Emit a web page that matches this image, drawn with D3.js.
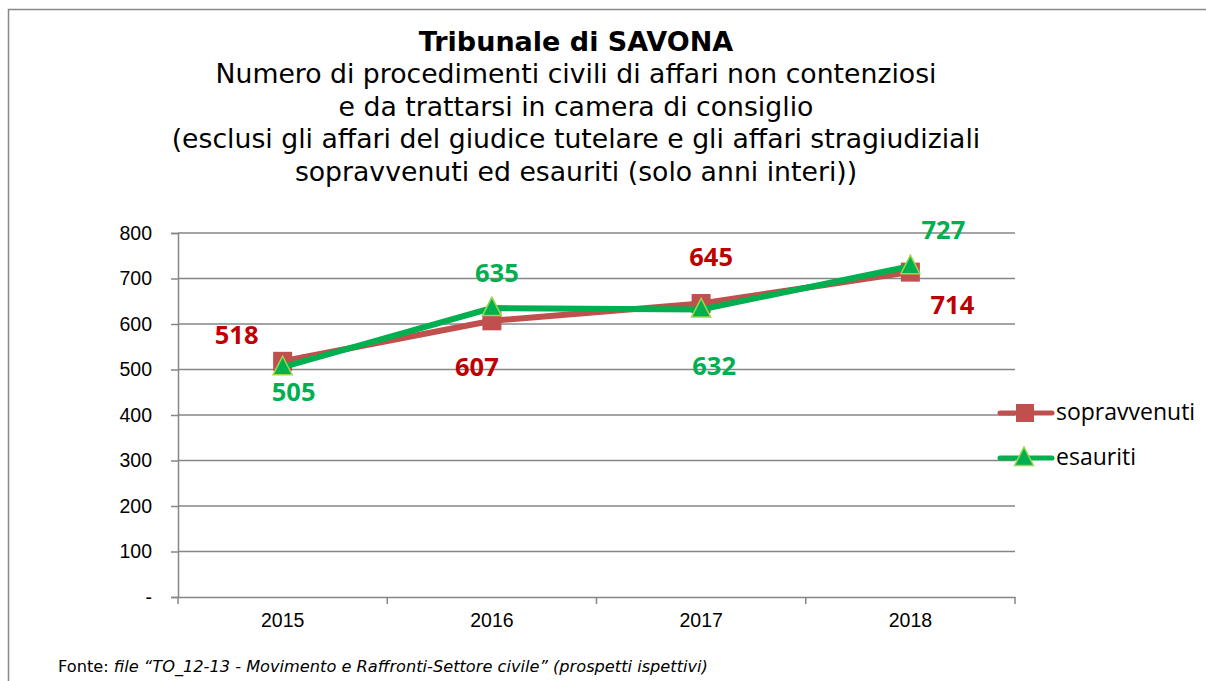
<!DOCTYPE html>
<html>
<head>
<meta charset="utf-8">
<script src="https://cdn.jsdelivr.net/npm/d3@7"></script>
<style>
  body { margin: 0; background: #fff; }
  svg { display: block; }
</style>
</head>
<body>
<script>
var years = ["2015", "2016", "2017", "2018"];
var sopravvenuti = [518, 607, 645, 714];
var esauriti = [505, 635, 632, 727];
var yTicks = [0, 100, 200, 300, 400, 500, 600, 700, 800];
var titleLines = [
  "Numero di procedimenti civili di affari non contenziosi",
  "e da trattarsi in camera di consiglio",
  "(esclusi gli affari del giudice tutelare e gli affari stragiudiziali",
  "sopravvenuti ed esauriti (solo anni interi))"
];

var width = 1206, height = 681;
var plotLeft = 178, plotRight = 1015, plotTop = 233, plotBottom = 597;

var svg = d3.select("body").append("svg")
    .attr("width", width)
    .attr("height", height);

// outer frame (runs off the right and bottom of the picture)
svg.append("rect")
    .attr("x", 8.5).attr("y", 9.5)
    .attr("width", 1300).attr("height", 800)
    .attr("fill", "none")
    .attr("stroke", "#888").attr("stroke-width", 1.5);

svg.append("text")
    .attr("x", 576).attr("y", 51)
    .attr("text-anchor", "middle")
    .style("font-family", "DejaVu Sans")
    .style("font-weight", "bold")
    .style("font-size", "27px")
    .text("Tribunale di SAVONA");

svg.selectAll(".sub").data(titleLines).enter().append("text")
    .attr("class", "sub")
    .attr("x", 576)
    .attr("y", function(d, i) { return 83 + i * 32.5; })
    .attr("text-anchor", "middle")
    .style("font-family", "DejaVu Sans")
    .style("font-size", "26.7px")
    .text(function(d) { return d; });

var x = d3.scaleBand().domain(years).range([plotLeft, plotRight]);
var y = d3.scaleLinear().domain([0, 800]).range([plotBottom, plotTop]);

// gridlines
svg.selectAll(".grid").data(yTicks.filter(function(d) { return d > 0; })).enter().append("line")
    .attr("x1", plotLeft).attr("x2", plotRight)
    .attr("y1", function(d) { return y(d); })
    .attr("y2", function(d) { return y(d); })
    .attr("stroke", "#868686").attr("stroke-width", 1.5);

var yAxis = svg.append("g")
    .attr("transform", "translate(" + plotLeft + ",0)")
    .call(d3.axisLeft(y).tickValues(yTicks).tickSize(7).tickPadding(19)
        .tickFormat(function(d) { return d === 0 ? "-" : d; }));
yAxis.select(".domain").attr("stroke", "#868686").attr("stroke-width", 1.5);
yAxis.selectAll(".tick line").attr("stroke", "#868686").attr("stroke-width", 1.5);
yAxis.selectAll("text")
    .style("font-family", "Liberation Sans")
    .style("font-size", "19.5px")
    .attr("fill", "#000");

var xAxis = svg.append("g")
    .attr("transform", "translate(0," + plotBottom + ")")
    .call(d3.axisBottom(x).tickSize(0).tickPadding(16));
xAxis.select(".domain").attr("stroke", "#868686").attr("stroke-width", 1.5);
xAxis.selectAll("text")
    .style("font-family", "Liberation Sans")
    .style("font-size", "19.5px")
    .attr("fill", "#000");
// category boundary ticks
xAxis.selectAll(".bt").data(years.concat(["end"])).enter().append("line")
    .attr("x1", function(d, i) { return plotLeft + i * x.step(); })
    .attr("x2", function(d, i) { return plotLeft + i * x.step(); })
    .attr("y1", 0).attr("y2", 7)
    .attr("stroke", "#868686").attr("stroke-width", 1.5);

var cx = function(d, i) { return x(years[i]) + x.bandwidth() / 2; };
var line = d3.line().x(function(d, i) { return cx(d, i); }).y(function(d) { return y(d); });

var red = "#C0504D", green = "#00B050";

svg.append("path").datum(sopravvenuti)
    .attr("d", line).attr("fill", "none")
    .attr("stroke", red).attr("stroke-width", 6);
svg.selectAll(".sq").data(sopravvenuti).enter().append("rect")
    .attr("x", function(d, i) { return cx(d, i) - 9.5; })
    .attr("y", function(d) { return y(d) - 9.5; })
    .attr("width", 19).attr("height", 19)
    .attr("fill", red);

svg.append("path").datum(esauriti)
    .attr("d", line).attr("fill", "none")
    .attr("stroke", green).attr("stroke-width", 6);

function tri(px, py) {
  return "M" + px + "," + (py - 11) + "L" + (px + 9.5) + "," + (py + 7.5) + "L" + (px - 9.5) + "," + (py + 7.5) + "Z";
}
svg.selectAll(".tr").data(esauriti).enter().append("path")
    .attr("d", function(d, i) { return tri(cx(d, i), y(d)); })
    .attr("fill", green).attr("stroke", "#9BD84A").attr("stroke-width", 1.5);

// data labels, offsets of the label centre from its point
var redOff = [[-46, -26], [-15, 46], [10, -47], [42, 33]];
var greenOff = [[11, 25], [5, -35], [13, 57], [33, -36]];
function labels(data, off, col) {
  svg.selectAll(null).data(data).enter().append("text")
      .attr("x", function(d, i) { return cx(d, i) + off[i][0]; })
      .attr("y", function(d, i) { return y(d) + off[i][1] + 9; })
      .attr("text-anchor", "middle")
      .style("font-family", "Open Sans")
      .style("font-weight", "bold")
      .style("font-size", "25.5px")
      .attr("fill", col)
      .text(function(d) { return d; });
}
labels(sopravvenuti, redOff, "#C00000");
labels(esauriti, greenOff, "#00B050");

// legend
var legend = [{name: "sopravvenuti", col: red, y: 413}, {name: "esauriti", col: green, y: 458}];
var lg = svg.selectAll(".lg").data(legend).enter().append("g");
lg.append("line")
    .attr("x1", 1000).attr("x2", 1052)
    .attr("y1", function(d) { return d.y; }).attr("y2", function(d) { return d.y; })
    .attr("stroke", function(d) { return d.col; }).attr("stroke-width", 5)
    .attr("stroke-linecap", "round");
lg.filter(function(d, i) { return i === 0; }).append("rect")
    .attr("x", 1016).attr("y", function(d) { return d.y - 9; })
    .attr("width", 18).attr("height", 18).attr("fill", red);
lg.filter(function(d, i) { return i === 1; }).append("path")
    .attr("d", function(d) { return tri(1024, d.y); })
    .attr("fill", green).attr("stroke", "#9BD84A").attr("stroke-width", 1.5);
lg.append("text")
    .attr("x", 1056).attr("y", function(d) { return d.y + 7; })
    .style("font-family", "Open Sans")
    .style("font-size", "23px")
    .text(function(d) { return d.name; });

// source note
var note = svg.append("text")
    .attr("x", 58).attr("y", 672)
    .style("font-family", "DejaVu Sans")
    .style("font-size", "16.2px");
note.append("tspan").text("Fonte: ");
note.append("tspan").style("font-style", "italic")
    .text("file \u201cTO_12-13 - Movimento e Raffronti-Settore civile\u201d (prospetti ispettivi)");
</script>
</body>
</html>
